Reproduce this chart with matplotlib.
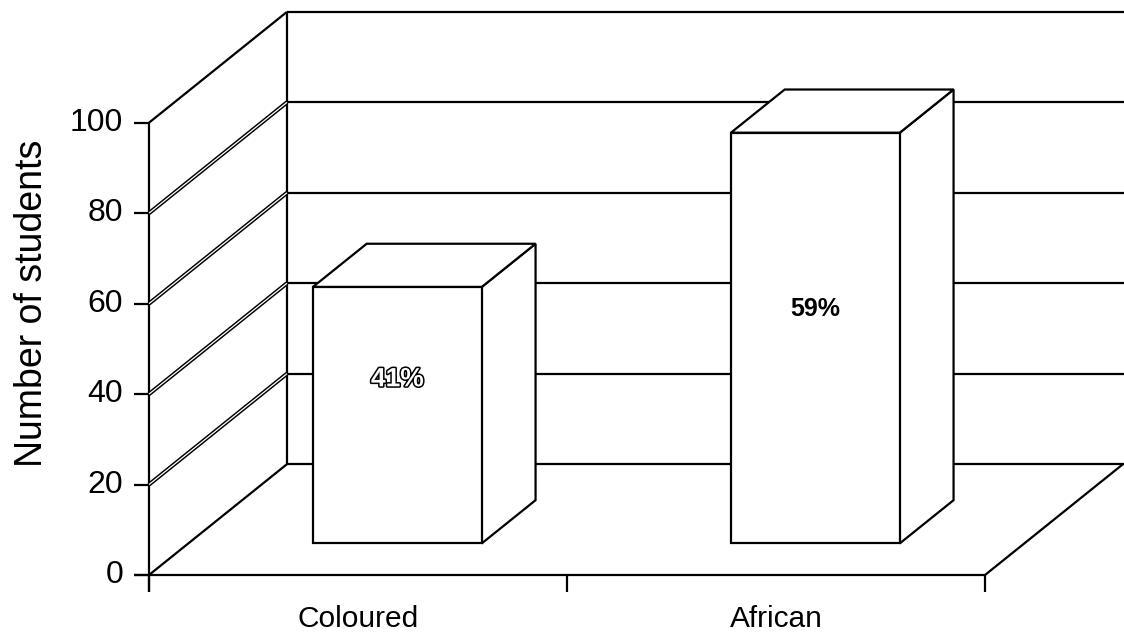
import matplotlib
matplotlib.use("Agg")
import matplotlib.pyplot as plt
from matplotlib.patches import Polygon
import matplotlib.patheffects as pe

# ---- data ----
categories = ["Coloured", "African"]
values = [56.7, 90.8]
percent_labels = ["41%", "59%"]
y_ticks = [0, 20, 40, 60, 80, 100]
y_label = "Number of students"

# ---- layout / style ----
W, H, DPI = 1124, 637, 100
FONT = "Liberation Sans"
DX = 0.330          # depth offset in category units
DY = 24.5           # depth offset in value units
D0, D1 = 0.285, 0.675  # bar depth range
BAR_W = 0.404
LW = 1.6
label_frac = [0.64, 0.57]

fig = plt.figure(figsize=(W / DPI, H / DPI), dpi=DPI)
ax = fig.add_axes([0, 0, 1, 1])
ax.set_xlim(-0.3565, 2.3325)
ax.set_ylim(-13.71, 127.13)
ax.axis("off")

ncat = len(categories)
vmax = y_ticks[-1]


def P(x, v, d):
    return (x + d * DX, v + d * DY)


def line(p, q, lw=LW, color="black", z=2):
    ax.plot([p[0], q[0]], [p[1], q[1]], color=color, lw=lw, zorder=z,
            solid_capstyle="butt", clip_on=False)


# back wall gridlines
for t in y_ticks:
    line(P(0, t, 1), P(ncat + 0.05, t, 1))
# back wall left edge
line(P(0, 0, 1), P(0, vmax, 1))
# left wall diagonals
for t in y_ticks:
    if t in (y_ticks[0], y_ticks[-1]):
        line(P(0, t, 0), P(0, t, 1))
    else:
        line(P(0, t, 0), P(0, t, 1), lw=3.0)
        line(P(0, t, 0), P(0, t, 1), lw=0.9, color="white", z=2.1)
# front vertical axis (with tick below)
tick_len_x = 15 / 418
tick_len_v = 17 / 4.523
line(P(0, -tick_len_v, 0), P(0, vmax, 0))
# floor
line(P(-tick_len_x, 0, 0), P(ncat, 0, 0))
line(P(ncat, 0, 0), P(ncat, 0, 1))
# y ticks
for t in y_ticks:
    line(P(-tick_len_x, t, 0), P(0, t, 0))
    ax.text(-0.062, t, str(t), ha="right", va="center", fontsize=23,
            family=FONT, color="black")
# x ticks
for i in range(ncat + 1):
    line(P(i, 0, 0), P(i, -tick_len_v, 0))
for i, c in enumerate(categories):
    ax.text(i + 0.5, -9.8, c, ha="center", va="center", fontsize=21.5,
            family=FONT, color="black")

ax.text(-0.28, 60, y_label, rotation=90, ha="center", va="center",
        fontsize=27, family=FONT, color="black")

# bars
for i, (v, lab) in enumerate(zip(values, percent_labels)):
    x0 = i + 0.5 - BAR_W / 2
    x1 = i + 0.5 + BAR_W / 2
    side = [P(x1, 0, D0), P(x1, 0, D1), P(x1, v, D1), P(x1, v, D0)]
    top = [P(x0, v, D0), P(x1, v, D0), P(x1, v, D1), P(x0, v, D1)]
    front = [P(x0, 0, D0), P(x1, 0, D0), P(x1, v, D0), P(x0, v, D0)]
    for poly in (side, top, front):
        ax.add_patch(Polygon(poly, closed=True, facecolor="white",
                             edgecolor="black", lw=LW, zorder=5,
                             joinstyle="miter"))
    cx, cy = P(i + 0.5, v * label_frac[i], D0)
    if i == 0:
        ax.text(cx, cy, lab, ha="center", va="center", fontsize=19,
                family=FONT, weight="bold", color="white", zorder=6,
                path_effects=[pe.withStroke(linewidth=2.2, foreground="black")])
    else:
        ax.text(cx, cy, lab, ha="center", va="center", fontsize=18,
                family=FONT, weight="bold", color="black", zorder=6)

fig.savefig("out.png", dpi=DPI, facecolor="white")
